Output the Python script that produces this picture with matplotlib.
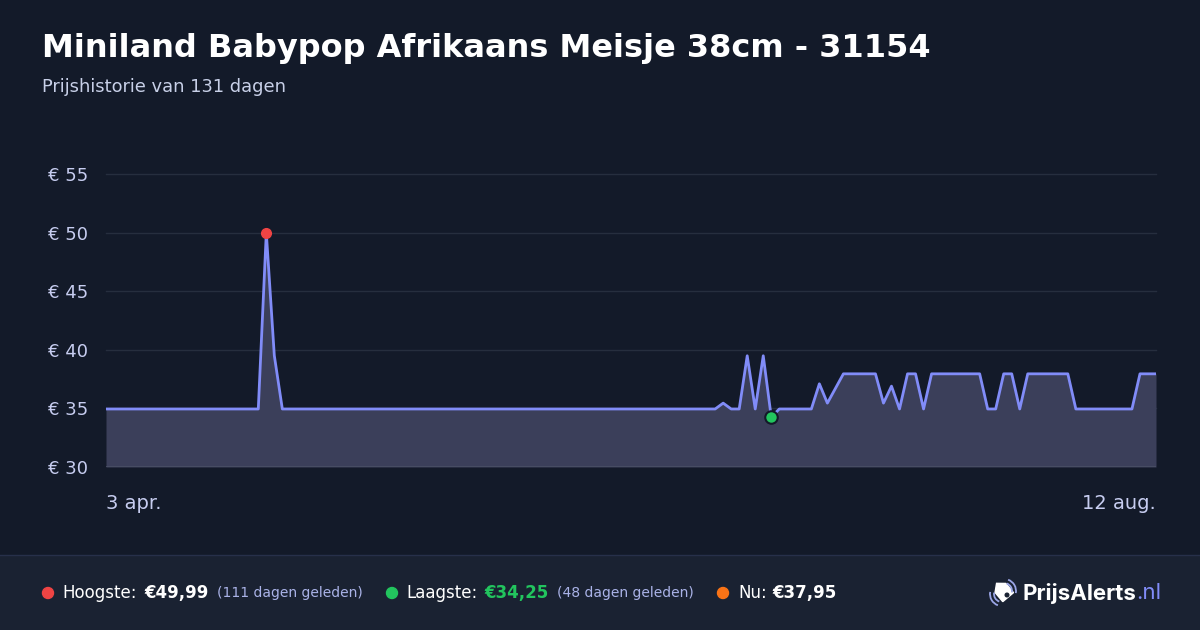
import matplotlib
matplotlib.use('Agg')
import matplotlib.pyplot as plt
from matplotlib.patches import Polygon, Rectangle, Arc, Circle
from matplotlib.transforms import Affine2D

plt.rcParams['font.family'] = ['DejaVu Sans']

# price history, one value per day (3 apr. .. 12 aug.)
prices = ([34.95] * 20 + [49.99, 39.5] + [34.95] * 55 +
          [35.45, 34.95, 34.95, 39.49, 34.95, 39.49, 34.25] +
          [34.95] * 5 + [37.1, 35.45, 36.7] + [37.95] * 5 +
          [35.45, 36.9, 34.95, 37.95, 37.95, 34.95] + [37.95] * 7 +
          [34.95, 34.95, 37.95, 37.95, 34.95] + [37.95] * 6 +
          [34.95] * 8 + [37.95] * 3)
days = list(range(len(prices)))
yticks = [30, 35, 40, 45, 50, 55]
ytick_labels = ['€ 30', '€ 35', '€ 40', '€ 45', '€ 50', '€ 55']
x_labels = ['3 apr.', '12 aug.']

title = 'Miniland Babypop Afrikaans Meisje 38cm - 31154'
subtitle = 'Prijshistorie van 131 dagen'
high_val, high_ago = '€49,99', '(111 dagen geleden)'
low_val, low_ago = '€34,25', '(48 dagen geleden)'
now_val = '€37,95'

BG = '#131a29'
FOOT = '#1a2232'
LINE = '#818cf8'
FILL = '#3b3f5a'
GRID = '#262e3e'
LABEL = '#c7cdf0'

W, H = 1200, 630
fig = plt.figure(figsize=(12, 6.3), dpi=100, facecolor=BG)

# main chart
ax = fig.add_axes([106 / W, 163 / H, 1050 / W, 293 / H])
ax.set_facecolor(BG)
ax.set_xlim(0, len(prices) - 1)
ax.set_ylim(30, 55)
for y in yticks[1:]:
    ax.axhline(y, color=GRID, lw=1, zorder=1, clip_on=False)
ax.fill_between(days, 30, prices, color=FILL, lw=0, zorder=2)
ax.axhline(30, color='#4a5066', lw=1.2, zorder=3)
ax.plot(days, prices, color=LINE, lw=2, zorder=4)

hi = prices.index(max(prices))
lo = prices.index(min(prices))
ax.plot(hi, 50, 'o', color='#ef4444', ms=7, zorder=5, clip_on=False)
ax.plot(lo, prices[lo], 'o', color='#22c55e', ms=9, mec=BG, mew=1.5, zorder=5)

ax.set_yticks(yticks)
ax.set_yticklabels(ytick_labels)
ax.set_xticks([])
ax.tick_params(axis='y', length=0, pad=13, labelsize=13, labelcolor=LABEL)
for s in ax.spines.values():
    s.set_visible(False)
ax.text(0, -0.125, x_labels[0], transform=ax.transAxes, ha='left', va='center',
        fontsize=14, color=LABEL)
ax.text(1, -0.125, x_labels[1], transform=ax.transAxes, ha='right', va='center',
        fontsize=14, color=LABEL)

# overlay in pixel coordinates for header / footer
ov = fig.add_axes([0, 0, 1, 1], zorder=-1)
ov.set_xlim(0, W)
ov.set_ylim(H, 0)
ov.axis('off')
ov.patch.set_alpha(0)

ov.text(42, 48, title, fontsize=23, fontweight='bold', color='white', va='center')
ov.text(42, 87, subtitle, fontsize=12.9, color='#c8d0e8', va='center')

ov.add_patch(Rectangle((0, 555), W, 75, color=FOOT, lw=0))
ov.plot([0, W], [555, 555], color='#27304a', lw=1)

fy = 593
ov.add_patch(Circle((48, fy), 5.5, color='#ef4444'))
ov.text(62, fy, 'Hoogste:', fontsize=12, color='white', va='center')
ov.text(144, fy, high_val, fontsize=12, fontweight='bold', color='white', va='center')
ov.text(217, fy, high_ago, fontsize=10, color='#aab3e8', va='center')

ov.add_patch(Circle((392, fy), 5.5, color='#22c55e'))
ov.text(406, fy, 'Laagste:', fontsize=12, color='white', va='center')
ov.text(484, fy, low_val, fontsize=12, fontweight='bold', color='#22c55e', va='center')
ov.text(557, fy, low_ago, fontsize=10, color='#aab3e8', va='center')

ov.add_patch(Circle((723, fy), 5.5, color='#f97316'))
ov.text(738, fy, 'Nu:', fontsize=12, color='white', va='center')
ov.text(772, fy, now_val, fontsize=12, fontweight='bold', color='white', va='center')

# logo: tag icon + wordmark
rot = Affine2D().rotate_deg(-40).translate(1003, 591) + ov.transData
tag = Polygon([(-7, -4), (0, -10), (7, -4), (7, 8), (-7, 8)], closed=True,
              color='white', transform=rot)
ov.add_patch(tag)
ov.add_patch(Circle((1007, 595), 1.8, color=FOOT))
for r in (8, 12):
    ov.add_patch(Arc((1004, 591), 2 * r, 2 * r, theta1=-70, theta2=10,
                     color='#9aa5e6', lw=1.3))
    ov.add_patch(Arc((1002, 594), 2 * r, 2 * r, theta1=110, theta2=190,
                     color='#9aa5e6', lw=1.3))
brand = ov.text(1022, fy, 'PrijsAlerts', fontsize=16, fontweight='bold', color='white',
                va='center', family='Inter')
fig.canvas.draw()
bb = brand.get_window_extent()
ov.text(bb.x1, fy, '.nl', fontsize=16, color=LINE, va='center', family='Inter')

fig.savefig('out.png', dpi=100, facecolor=BG)
